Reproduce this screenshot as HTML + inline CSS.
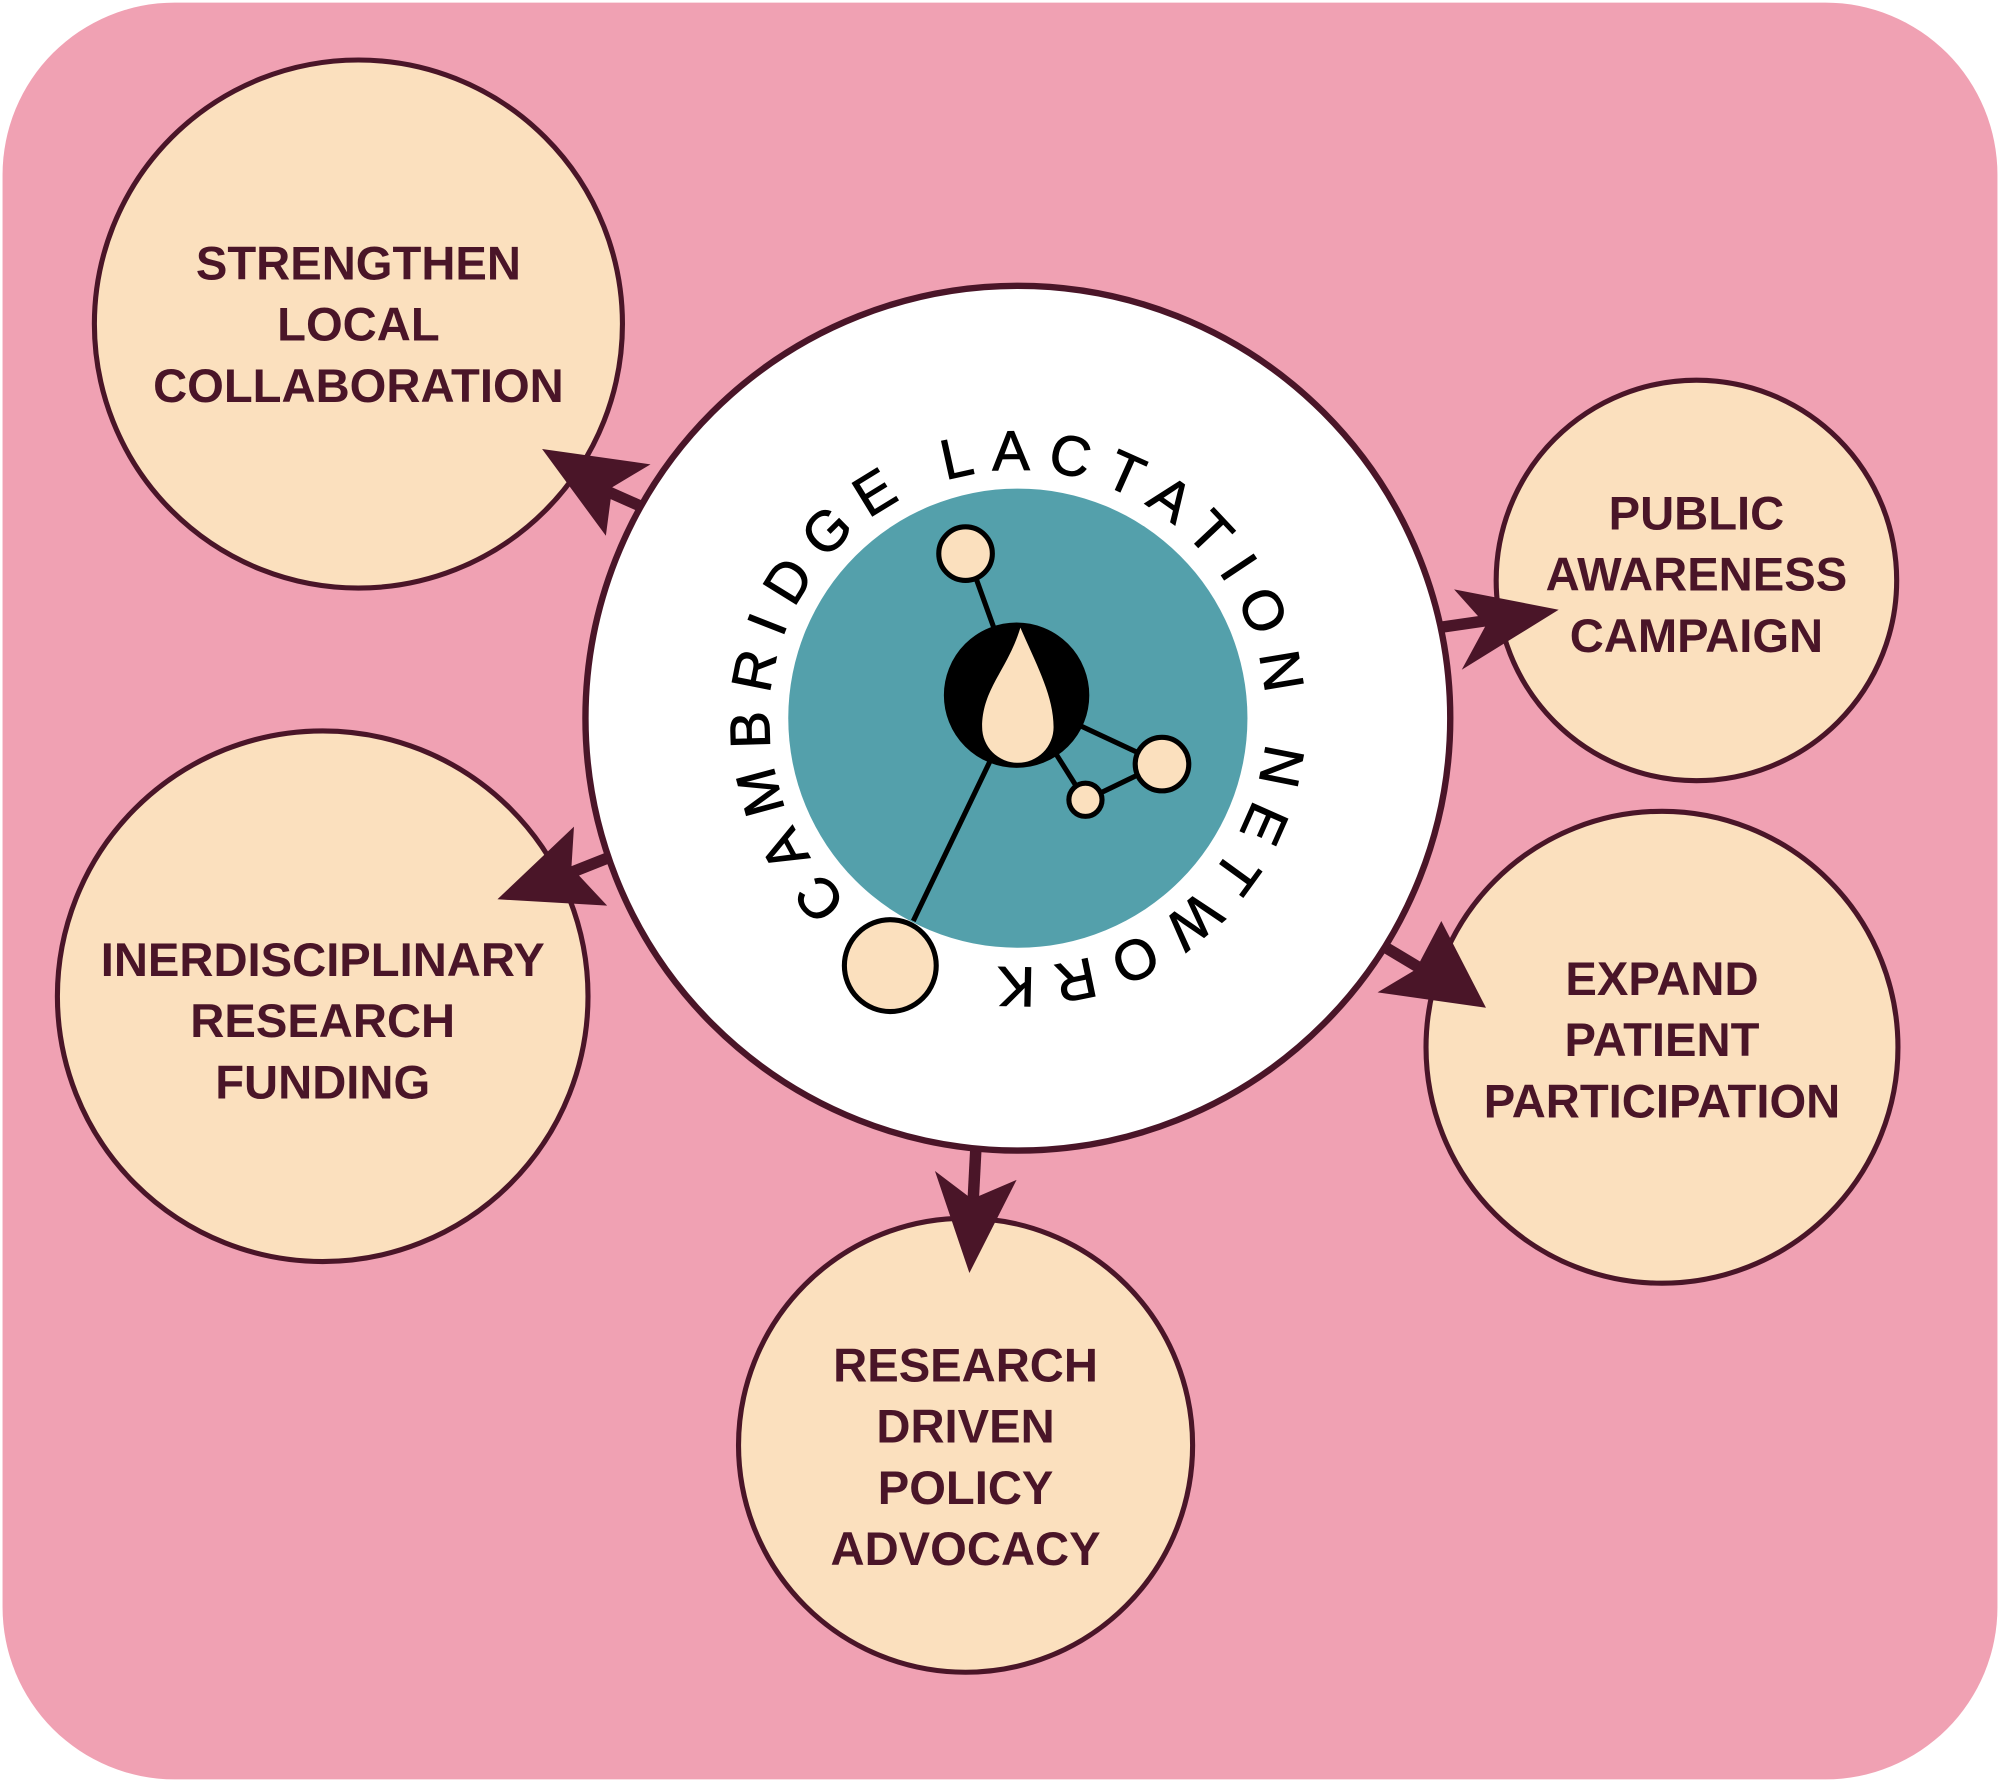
<!DOCTYPE html>
<html><head><meta charset="utf-8"><style>html,body{margin:0;padding:0;background:#fff}svg{display:block}</style></head><body>
<svg width="2000" height="1782" viewBox="0 0 1568 1397" xmlns="http://www.w3.org/2000/svg">
<rect x="2" y="2" width="1564" height="1393" rx="135" fill="#F0A1B3"/>
<g stroke="#4A1528" stroke-width="4" fill="#FBE0BE">
<circle cx="281" cy="254" r="207"/>
<circle cx="1330" cy="455" r="157"/>
<circle cx="1303" cy="821" r="185"/>
<circle cx="757" cy="1133" r="178"/>
<circle cx="253" cy="781" r="208"/>
</g>
<g stroke="#4A1528" stroke-width="9" fill="none">
<line x1="505" y1="398" x2="460" y2="378"/>
<line x1="1128" y1="492" x2="1190" y2="483"/>
<line x1="1085" y1="742" x2="1135" y2="772"/>
<line x1="765" y1="902" x2="762" y2="960"/>
<line x1="478" y1="672" x2="425" y2="693"/>
</g>
<g fill="#4A1528">
<polygon points="425,352 510,364 480,382 475,420"/>
<polygon points="1222,478 1140,462 1165,490 1146,525"/>
<polygon points="1165,790 1080,778 1110,760 1130,722"/>
<polygon points="760,998 733,918 762,940 797,925"/>
<polygon points="390,705 450,648 448,680 476,710"/>
</g>
<circle cx="798" cy="563" r="339" fill="#fff" stroke="#4A1528" stroke-width="5"/>
<circle cx="798" cy="563" r="180" fill="#54A0AB"/>
<g stroke="#000" stroke-width="4" fill="#FBE0BE">
<line x1="764" y1="450" x2="782" y2="500"/>
<line x1="845" y1="568" x2="892" y2="590"/>
<line x1="826" y1="588" x2="843" y2="615"/>
<line x1="864" y1="621" x2="893" y2="607"/>
<line x1="777" y1="595" x2="716" y2="722"/>
<circle cx="797" cy="545" r="55" fill="#000"/>
<circle cx="757" cy="434" r="21"/>
<circle cx="911" cy="599" r="21"/>
<circle cx="851" cy="627" r="13"/>
<circle cx="698" cy="757" r="36"/>
</g>
<path d="M800,492 C790,525 770,540 770,570 A28,28 0 0 0 826,570 C826,545 812,520 800,492 Z" fill="#FBE0BE"/>
<defs><path id="ring" d="M665,706 A195,195 0 1 1 931,706 A195,195 0 0 1 665,706"/></defs>
<text font-family="Liberation Sans, sans-serif" font-size="44" fill="#000" stroke="#000" stroke-width="0.8" letter-spacing="6"><textPath href="#ring" textLength="1100" lengthAdjust="spacing">CAMBRIDGE LACTATION NETWORK</textPath></text>
<g font-family="Liberation Sans, sans-serif" font-size="37" font-weight="bold" fill="#4A1528" text-anchor="middle">
<text x="281" y="219">STRENGTHEN</text><text x="281" y="267">LOCAL</text><text x="281" y="315">COLLABORATION</text>
<text x="1330" y="415">PUBLIC</text><text x="1330" y="463">AWARENESS</text><text x="1330" y="511">CAMPAIGN</text>
<text x="1303" y="780">EXPAND</text><text x="1303" y="828">PATIENT</text><text x="1303" y="876">PARTICIPATION</text>
<text x="757" y="1083">RESEARCH</text><text x="757" y="1131">DRIVEN</text><text x="757" y="1179">POLICY</text><text x="757" y="1227">ADVOCACY</text>
<text x="253" y="765">INERDISCIPLINARY</text><text x="253" y="813">RESEARCH</text><text x="253" y="861">FUNDING</text>
</g>
</svg>
</body></html>
